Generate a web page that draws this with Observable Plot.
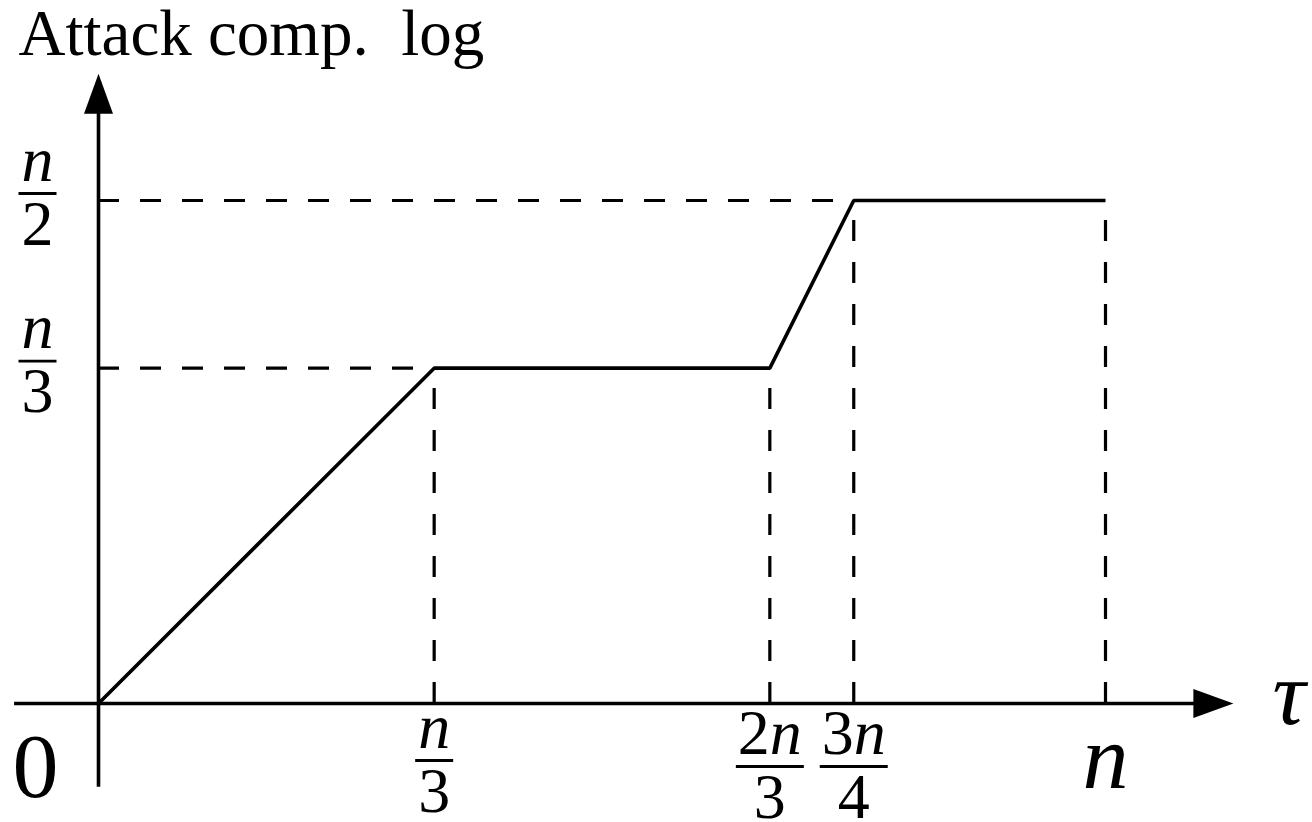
<!DOCTYPE html>
<html>
<head>
<meta charset="utf-8">
<script src="https://cdn.jsdelivr.net/npm/d3@7"></script>
<script src="https://cdn.jsdelivr.net/npm/@observablehq/plot@0.6"></script>
<style>
  html, body { margin: 0; padding: 0; background: #fff; }
  svg { display: block; }
</style>
</head>
<body>
<div id="chart"></div>
<script>
// Attack complexity (exponent, in units of n) as a function of the threshold τ (in units of n)
const tau    = [0, 1/3, 2/3, 3/4, 1];
const attack = [0, 1/3, 1/3, 1/2, 1/2];

// Fractional tick labels
const xTickValues       = [1/3, 2/3, 3/4];
const xTickNumerators   = ["n", "2n", "3n"];
const xTickDenominators = ["3", "3", "4"];
const yTickValues       = [1/3, 1/2];
const yTickNumerators   = ["n", "n"];
const yTickDenominators = ["3", "2"];

const originLabel = "0";
const endLabel    = "n";          // τ = n
const xAxisLabel  = "τ";
const yAxisLabel  = "Attack comp.\u2002log";

// Axis extents in n units: overshoot past the origin, arrow tip at the far end
const xAxisExtent = [-1/12, 1.127];
const yAxisExtent = [-1/12, 0.626];

const FONT = "Liberation Serif";
const INK = "black";

// ---- derived tables -------------------------------------------------------
const curve = tau.map((t, i) => ({tau: t, attack: attack[i]}));

// vertical guides drop from every breakpoint to the τ axis
const vGuides = curve.filter(d => d.tau > 0);
// horizontal guides run from the vertical axis to where each level is first reached
const hGuides = [...new Set(attack.filter(a => a > 0))]
  .map(a => curve.find(d => d.attack === a));

const splitNum = s => ({coef: s.slice(0, -1), v: s.slice(-1)});
const xTicks = xTickValues.map((x, i) => ({x, y: 0, den: xTickDenominators[i], ...splitNum(xTickNumerators[i])}));
const yTicks = yTickValues.map((y, i) => ({x: 0, y, den: yTickDenominators[i], ...splitNum(yTickNumerators[i])}));

// ---- custom symbols ------------------------------------------------------
// filled arrowhead, tip at the anchor point, pointing up before rotation
const arrowHead = {
  draw(ctx) {
    ctx.moveTo(0, 0);
    ctx.lineTo(14.5, 40);
    ctx.lineTo(-14.5, 40);
    ctx.closePath();
  }
};
// horizontal fraction rule, half-width given by the dot radius
const fractionRule = {
  draw(ctx, size) {
    const r = Math.sqrt(size / Math.PI);
    ctx.moveTo(-r, 0);
    ctx.lineTo(r, 0);
  }
};

// numerator / rule / denominator stacked around a tick position
function fractionLabels(data, {dx = 0, barDy}) {
  const hasCoef = data[0].coef !== "";
  const common = {x: "x", y: "y", dx, fontFamily: FONT, fontSize: 64, lineAnchor: "bottom", fill: INK};
  const marks = [
    Plot.dot(data, {x: "x", y: "y", dx, dy: barDy, r: hasCoef ? 34 : 19, symbol: fractionRule,
                    stroke: INK, strokeWidth: 2.8, fill: "none"}),
    Plot.text(data, {...common, text: "den", dy: barDy + 51, textAnchor: "middle"})
  ];
  if (hasCoef) {
    marks.push(Plot.text(data, {...common, text: "coef", dy: barDy - 13, textAnchor: "end"}));
    marks.push(Plot.text(data, {...common, text: "v", dy: barDy - 13, textAnchor: "start", fontStyle: "italic"}));
  } else {
    marks.push(Plot.text(data, {...common, text: "v", dy: barDy - 13, textAnchor: "middle", fontStyle: "italic"}));
  }
  return marks;
}

const dash = "21,21";

const chart = Plot.plot({
  width: 1312,
  height: 822,
  marginLeft: 98,
  marginRight: 207,
  marginTop: 200,
  marginBottom: 119,
  axis: null,
  x: {domain: [0, 1]},
  y: {domain: [0, 1/2]},
  style: {background: "white", color: INK, fontFamily: FONT},
  marks: [
    // dashed guides
    Plot.ruleX(vGuides, {x: "tau", y1: 0, y2: "attack", stroke: INK, strokeWidth: 3.2, strokeDasharray: dash}),
    Plot.ruleY(hGuides, {y: "attack", x1: 0, x2: "tau", stroke: INK, strokeWidth: 3.2, strokeDasharray: dash}),

    // the attack complexity curve
    Plot.line(curve, {x: "tau", y: "attack", stroke: INK, strokeWidth: 3.6,
                      strokeLinejoin: "miter", strokeLinecap: "butt"}),

    // axes with filled arrowheads
    Plot.ruleY([0], {x1: xAxisExtent[0], x2: xAxisExtent[1], insetRight: 30, stroke: INK, strokeWidth: 3.6}),
    Plot.ruleX([0], {y1: yAxisExtent[1], y2: yAxisExtent[0], insetTop: 30, stroke: INK, strokeWidth: 3.6}),
    Plot.dot([{x: xAxisExtent[1], y: 0}], {x: "x", y: "y", symbol: arrowHead, rotate: 90, fill: INK, stroke: "none"}),
    Plot.dot([{x: 0, y: yAxisExtent[1]}], {x: "x", y: "y", symbol: arrowHead, fill: INK, stroke: "none"}),

    // tick labels
    ...fractionLabels(xTicks.filter(d => d.coef === ""), {barDy: 57}),
    ...fractionLabels(xTicks.filter(d => d.coef !== ""), {barDy: 63}),
    ...fractionLabels(yTicks, {dx: -61, barDy: -7}),
    Plot.text([{x: 0, y: 0}], {x: "x", y: "y", text: [originLabel], dx: -63, dy: 93,
                               fontSize: 92, fontFamily: FONT, lineAnchor: "bottom", textAnchor: "middle", fill: INK}),
    Plot.text([{x: 1, y: 0}], {x: "x", y: "y", text: [endLabel], dy: 84, fontStyle: "italic",
                               fontSize: 92, fontFamily: FONT, lineAnchor: "bottom", textAnchor: "middle", fill: INK}),

    // axis titles
    Plot.text([{x: xAxisExtent[1], y: 0}], {x: "x", y: "y", text: [xAxisLabel], dx: 39, dy: 20, fontStyle: "italic",
                               fontSize: 92, fontFamily: FONT, lineAnchor: "bottom", textAnchor: "start", fill: INK}),
    Plot.text([yAxisLabel], {frameAnchor: "top-left", dx: -80, dy: -146, fontSize: 65, fontFamily: FONT,
                             lineAnchor: "bottom", textAnchor: "start", fill: INK})
  ]
});

document.getElementById("chart").appendChild(chart);
</script>
</body>
</html>
